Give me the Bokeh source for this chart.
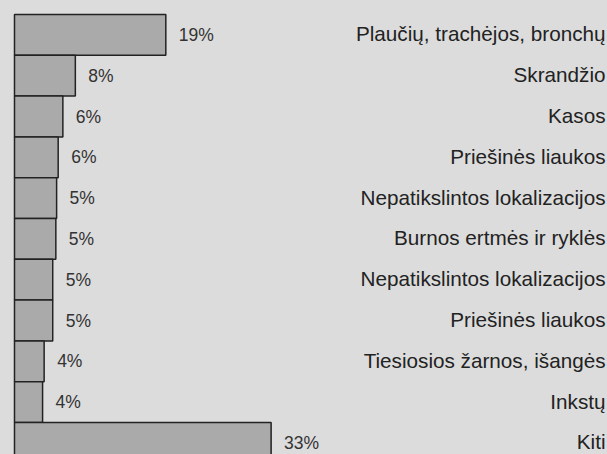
from bokeh.plotting import figure
from bokeh.models import ColumnDataSource, Range1d
from bokeh.embed import file_html
from bokeh.resources import INLINE
from bokeh.core.properties import value

# Data
categories = [
    "Plaučių, trachėjos, bronchų",
    "Skrandžio",
    "Kasos",
    "Priešinės liaukos",
    "Nepatikslintos lokalizacijos",
    "Burnos ertmės ir ryklės",
    "Nepatikslintos lokalizacijos",
    "Priešinės liaukos",
    "Tiesiosios žarnos, išangės",
    "Inkstų",
    "Kiti",
]
shares = [19.4, 7.8, 6.2, 5.6, 5.4, 5.3, 4.9, 4.9, 3.8, 3.6, 32.9]
share_labels = ["19%", "8%", "6%", "6%", "5%", "5%", "5%", "5%", "4%", "4%", "33%"]

BG = "#dcdcdc"
W, H = 607, 454
PX_PER_UNIT_X = 7.8
PX_PER_ROW = 40.8
x_start = -14 / PX_PER_UNIT_X
y_top = -14 / PX_PER_ROW
x_end = x_start + W / PX_PER_UNIT_X

idx = list(range(len(categories)))
src = ColumnDataSource(dict(
    y=[i + 0.5 for i in idx],
    top=idx,
    bottom=[i + 1 for i in idx],
    share=shares,
    cat=categories,
    lab=share_labels,
    xr=[x_end] * len(idx),
))

p = figure(width=W, height=H, output_backend="svg", toolbar_location=None,
           x_range=Range1d(x_start, x_end),
           y_range=Range1d(y_top + H / PX_PER_ROW, y_top),
           min_border=0, background_fill_color=BG, border_fill_color=BG)
p.axis.visible = False
p.grid.visible = False
p.outline_line_color = None

p.quad(left=0, right="share", top="top", bottom="bottom", source=src,
       fill_color="#aaaaaa", line_color="#222222", line_width=1.5)

p.text(x="share", y="y", text="lab", source=src, x_offset=13,
       text_align="left", text_baseline="middle",
       text_font=value("Liberation Sans"), text_font_size="17.5px",
       text_color="#333333")

p.text(x="xr", y="y", text="cat", source=src, x_offset=-2, y_offset=-1,
       text_align="right", text_baseline="middle",
       text_font=value("Liberation Sans"), text_font_size="20.7px",
       text_color="#222222")

html = file_html(p, INLINE)
html = html.replace("<body>", '<body style="background-color:#dcdcdc;">')
open("out.html", "w").write(html)
